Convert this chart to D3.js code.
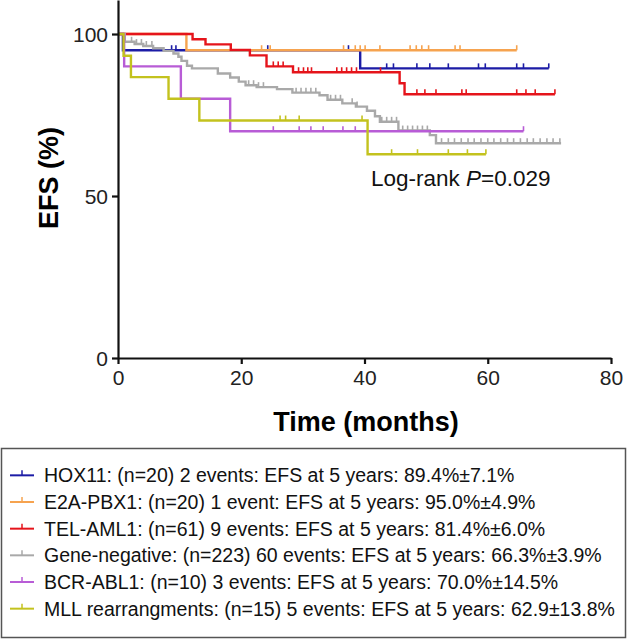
<!DOCTYPE html>
<html>
<head>
<meta charset="utf-8">
<script src="https://cdn.jsdelivr.net/npm/d3@7"></script>
<style>
  body { margin: 0; background: #fff; }
  svg text { font-family: Arial, "Liberation Sans", sans-serif; }
</style>
</head>
<body>
<div id="chart"></div>
<script>
// groups, in legend order
const groupNames = ["HOX11", "E2A-PBX1", "TEL-AML1", "Gene-negative", "BCR-ABL1", "MLL"];
const legendLabels = [
  "HOX11: (n=20) 2 events: EFS at 5 years: 89.4%\u00b17.1%",
  "E2A-PBX1: (n=20) 1 event: EFS at 5 years: 95.0%\u00b14.9%",
  "TEL-AML1: (n=61) 9 events: EFS at 5 years: 81.4%\u00b16.0%",
  "Gene-negative: (n=223) 60 events: EFS at 5 years: 66.3%\u00b13.9%",
  "BCR-ABL1: (n=10) 3 events: EFS at 5 years: 70.0%\u00b114.5%",
  "MLL rearrangments: (n=15) 5 events: EFS at 5 years: 62.9\u00b113.8%"
];
const colors = ["#1c1ca6", "#f6a34f", "#e5141b", "#a9a9a9", "#b85cd6", "#c3c21e"];

// event steps: [month, EFS% after the drop]
const hox11Steps = [[0.8, 95.0], [39.3, 89.4]];
const e2aSteps = [[11.1, 95.0]];
const telSteps = [[12.1, 98.4], [14.2, 96.8], [18.3, 95.1], [21.4, 93.4], [24.1, 90.0], [28.4, 88.2], [45.7, 84.8], [46.5, 81.4]];
const geneNegSteps = [[1.1, 97.6], [2.7, 96.9], [4.1, 96.3], [5.7, 95.6], [7.4, 94.8], [9.0, 94.0], [9.8, 93.0], [10.3, 91.7],
  [11.2, 90.2], [12.0, 89.4], [16.2, 87.8], [18.2, 86.6], [19.6, 85.3], [20.7, 84.2], [22.5, 83.6], [25.8, 83.0],
  [28.3, 81.9], [32.7, 81.1], [34.0, 79.7], [36.4, 78.6], [38.6, 77.6], [40.4, 76.3], [41.7, 74.6], [42.5, 72.9],
  [45.5, 70.2], [50.6, 68.8], [51.6, 66.3]];
const bcrSteps = [[1.0, 90.0], [10.2, 80.0], [18.2, 70.0]];
const mllSteps = [[0.9, 93.3], [2.1, 86.7], [8.2, 80.0], [13.2, 73.3], [40.5, 62.9]];

// last follow-up (months)
const endTimes = [69.9, 64.7, 70.9, 71.9, 65.8, 59.7];

// censored cases (months)
const hox11Censor = [8.7, 9.4, 24.3, 37.4, 43.6, 44.7, 48.5, 50.6, 53.6, 58.5, 59.6, 64.7, 65.8, 69.9];
const e2aCensor = [23.3, 24.7, 36.6, 38.5, 39.3, 40.1, 42.5, 47.4, 48.4, 49.3, 50.4, 54.7, 55.5, 64.7];
const telCensor = [25.2, 26.0, 26.8, 29.3, 30.1, 30.8, 31.4, 35.5, 36.3, 37.1, 37.9, 38.7, 42.6, 48.5, 49.8, 51.6,
  55.8, 56.5, 64.7, 66.2, 67.7, 70.9];
const geneNegCensor = [2.2, 3.0, 3.8, 4.6, 5.5, 21.2, 22.0, 22.8, 23.6, 28.9, 29.7, 30.5, 31.3, 32.1, 34.5, 35.3, 36.1,
  38.0, 38.8, 42.8, 43.6, 44.4, 45.2, 46.2, 47.0, 47.8, 48.6, 49.4, 50.2, 52.5, 53.6, 54.6, 55.7, 56.8, 57.8, 58.9,
  60.0, 61.0, 62.1, 63.2, 64.2, 65.3, 66.4, 67.4, 68.5, 69.6, 70.6, 71.7];
const bcrCensor = [25.2, 29.4, 31.3, 33.3, 36.5, 38.5, 65.8];
const mllCensor = [26.3, 27.2, 29.4, 39.6, 44.4, 48.6, 53.6, 56.7, 59.7];

const xTicks = [0, 20, 40, 60, 80];
const yTicks = [0, 50, 100];

const stepsList = [hox11Steps, e2aSteps, telSteps, geneNegSteps, bcrSteps, mllSteps];
const censorList = [hox11Censor, e2aCensor, telCensor, geneNegCensor, bcrCensor, mllCensor];

const W = 628, H = 641;
const svg = d3.select("#chart").append("svg").attr("width", W).attr("height", H);

const x = d3.scaleLinear().domain([0, 80]).range([118, 611]);
const y = d3.scaleLinear().domain([0, 110.5]).range([358, 0]);

function survAt(steps, t) {
  let s = 100;
  steps.forEach(d => { if (d[0] <= t) s = d[1]; });
  return s;
}

// curves
const line = d3.line().x(d => x(d[0])).y(d => y(d[1])).curve(d3.curveStepAfter);
groupNames.forEach((name, i) => {
  const steps = stepsList[i];
  const pts = [[0, 100]].concat(steps, [[endTimes[i], steps[steps.length - 1][1]]]);
  const g = svg.append("g").attr("class", "km");
  g.append("path")
    .attr("d", line(pts))
    .attr("fill", "none")
    .attr("stroke", colors[i])
    .attr("stroke-width", 2.4);
  g.selectAll("line.cens")
    .data(censorList[i])
    .enter().append("line")
    .attr("x1", d => x(d)).attr("x2", d => x(d))
    .attr("y1", d => y(survAt(steps, d)))
    .attr("y2", d => y(survAt(steps, d)) - 5)
    .attr("stroke", colors[i])
    .attr("stroke-width", 1.6);
});

// axes
const xAxis = svg.append("g").attr("transform", "translate(0,358)")
  .call(d3.axisBottom(x).tickValues(xTicks).tickSize(6).tickSizeOuter(0).tickPadding(6));
const yAxis = svg.append("g").attr("transform", "translate(118,0)")
  .call(d3.axisLeft(y).tickValues(yTicks).tickSize(6).tickSizeOuter(0).tickPadding(4));
[xAxis, yAxis].forEach(a => {
  a.select(".domain").attr("stroke", "#111").attr("stroke-width", 2.2);
  a.selectAll(".tick line").attr("stroke", "#111").attr("stroke-width", 2.2);
  a.selectAll(".tick text").attr("fill", "#222").style("font-size", "21px")
    .style("font-family", "Arial, 'Liberation Sans', sans-serif");
});
yAxis.selectAll(".tick text").attr("dy", "0.36em");

// axis titles
svg.append("text")
  .attr("x", 366).attr("y", 431)
  .attr("text-anchor", "middle")
  .style("font-size", "27px").style("font-weight", "bold")
  .text("Time (months)");
svg.append("text")
  .attr("transform", "translate(58,178) rotate(-90)")
  .attr("text-anchor", "middle")
  .style("font-size", "27px").style("font-weight", "bold")
  .text("EFS (%)");

// log-rank
const lr = svg.append("text").attr("x", 371).attr("y", 186).style("font-size", "22.5px").attr("fill", "#111");
lr.append("tspan").text("Log-rank ");
lr.append("tspan").style("font-style", "italic").text("P");
lr.append("tspan").text("=0.029");

// legend
svg.append("rect")
  .attr("x", 1.5).attr("y", 448.5).attr("width", 624).attr("height", 189)
  .attr("fill", "none").attr("stroke", "#555").attr("stroke-width", 1.5);
const leg = svg.append("g");
const rowY = d3.scaleBand().domain(groupNames).range([462, 622]);
groupNames.forEach((name, i) => {
  const cy = rowY(name) + rowY.bandwidth() / 2;
  leg.append("line").attr("x1", 10).attr("x2", 34).attr("y1", cy).attr("y2", cy)
    .attr("stroke", colors[i]).attr("stroke-width", 2);
  leg.append("line").attr("x1", 22).attr("x2", 22).attr("y1", cy).attr("y2", cy - 5)
    .attr("stroke", colors[i]).attr("stroke-width", 1.5);
  leg.append("text").attr("x", 44).attr("y", cy + 7)
    .style("font-size", "19.5px").attr("fill", "#111")
    .text(legendLabels[i]);
});
</script>
</body>
</html>
